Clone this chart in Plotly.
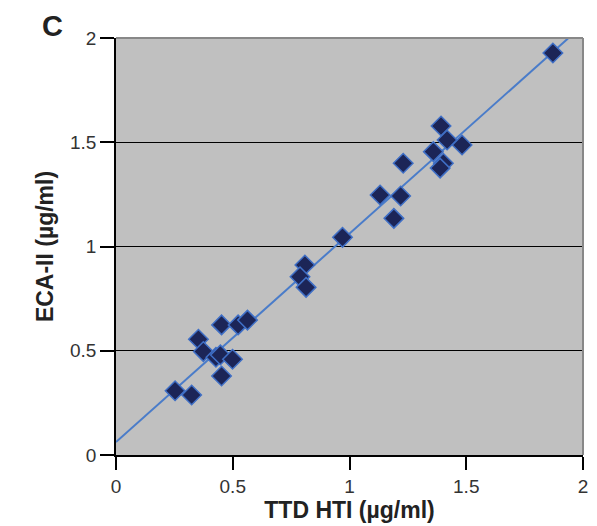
import plotly.graph_objects as go

# TTD HTI vs ECA-II
ttd_hti = [1.871, 1.392, 1.418, 1.482, 1.359, 1.402, 1.388, 1.230,
           1.131, 1.219, 1.190, 0.970, 0.809, 0.788, 0.814,
           0.452, 0.523, 0.563, 0.353, 0.374, 0.428, 0.447, 0.499,
           0.452, 0.253, 0.324]
eca_ii = [1.928, 1.578, 1.511, 1.487, 1.455, 1.399, 1.376, 1.399,
          1.247, 1.242, 1.135, 1.044, 0.911, 0.855, 0.804,
          0.624, 0.624, 0.647, 0.555, 0.496, 0.469, 0.480, 0.459,
          0.379, 0.308, 0.288]

# regression line endpoints
fit_x = [0, 1.938]
fit_y = [0.062, 2.0]

tick_vals = [0, 0.5, 1, 1.5, 2]
tick_text = ["0", "0.5", "1", "1.5", "2"]

font = "Liberation Sans, Arial, sans-serif"

fig = go.Figure()
fig.add_trace(go.Scatter(x=fit_x, y=fit_y, mode="lines",
                         line=dict(color="#4a7cc9", width=2),
                         showlegend=False, hoverinfo="skip"))
fig.add_trace(go.Scatter(x=ttd_hti, y=eca_ii, mode="markers",
                         marker=dict(symbol="diamond", size=15, color="#1c2557",
                                     line=dict(color="#3f6fc6", width=1.5)),
                         showlegend=False))

# page body has an 8px margin, so the figure is a bit smaller than the window
fig.update_layout(
    width=589, height=518,
    margin=dict(l=108, r=14, t=30, b=71, autoexpand=False),
    paper_bgcolor="white", plot_bgcolor="#c0c0c0",
    font=dict(family=font, size=19, color="#333333"),
    xaxis=dict(range=[0, 2], tickvals=tick_vals, ticktext=tick_text,
               showgrid=False, zeroline=False, showline=True,
               linecolor="black", linewidth=1.5,
               ticks="outside", ticklen=13, tickcolor="black", tickwidth=1.5,
               title=dict(text="<b>TTD HTI (µg/ml)</b>", standoff=4,
                          font=dict(size=23, color="#222222"))),
    yaxis=dict(range=[0, 2], tickvals=tick_vals, ticktext=tick_text,
               showgrid=True, gridcolor="black", gridwidth=1.2,
               zeroline=False, showline=True,
               linecolor="black", linewidth=1.5,
               ticks="outside", ticklen=14, tickcolor="black", tickwidth=1.5,
               title=dict(text="<b>ECA-II (µg/ml)</b>", standoff=10,
                          font=dict(size=23, color="#222222"))),
    shapes=[dict(type="line", xref="paper", yref="paper", x0=0, x1=1, y0=1, y1=1,
                 line=dict(color="#888888", width=2), layer="above"),
            dict(type="line", xref="paper", yref="paper", x0=1, x1=1, y0=0, y1=1,
                 line=dict(color="#888888", width=2), layer="above")],
    annotations=[dict(text="<b>C</b>", xref="paper", yref="paper",
                      x=-0.137, y=1.07, xanchor="center", yanchor="top",
                      borderpad=0, showarrow=False,
                      font=dict(size=29, color="#222222"))],
)

fig.write_html("out.html")
